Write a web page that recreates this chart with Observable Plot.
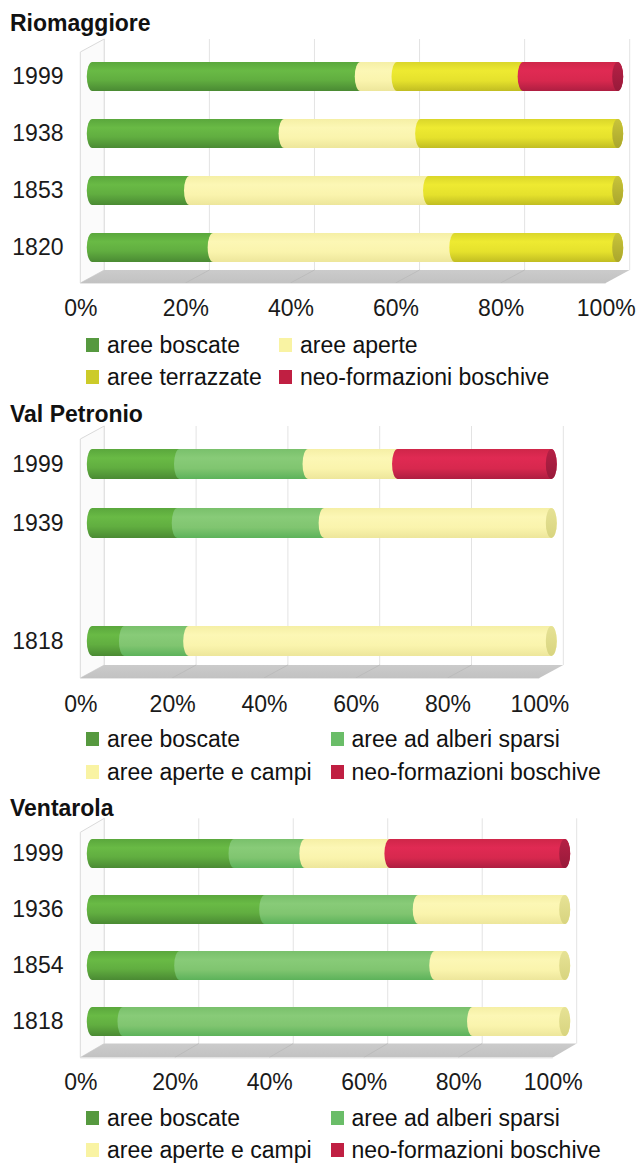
<!DOCTYPE html>
<html><head><meta charset="utf-8">
<script src="https://cdn.jsdelivr.net/npm/d3@7"></script>
<script src="https://cdn.jsdelivr.net/npm/@observablehq/plot@0.6"></script>
<style>
body{margin:0;background:#fff;font-family:"Liberation Sans",Arial,sans-serif;}
#root{position:relative;width:638px;height:1163px;overflow:hidden;}
.title{position:absolute;left:10px;font-weight:bold;color:#111;white-space:nowrap;}
.leg{position:absolute;color:#111;white-space:nowrap;font-size:23px;line-height:23px;}
.sw{position:absolute;width:13px;height:14px;}
.panel{position:absolute;left:0;}
</style></head><body>
<svg width="0" height="0" style="position:absolute">
<defs>
<linearGradient id="g-bos" x1="0" y1="0" x2="0" y2="1"><stop offset="0" stop-color="#5aa73c"/><stop offset="0.3" stop-color="#69ba45"/><stop offset="0.62" stop-color="#61ae40"/><stop offset="1" stop-color="#4a8a33"/></linearGradient>
<linearGradient id="g-spa" x1="0" y1="0" x2="0" y2="1"><stop offset="0" stop-color="#79c06b"/><stop offset="0.3" stop-color="#88cb78"/><stop offset="0.65" stop-color="#80c570"/><stop offset="1" stop-color="#5cb25a"/></linearGradient>
<linearGradient id="g-ape" x1="0" y1="0" x2="0" y2="1"><stop offset="0" stop-color="#f5efa5"/><stop offset="0.3" stop-color="#fcf7b5"/><stop offset="0.65" stop-color="#faf4ad"/><stop offset="1" stop-color="#ede69b"/></linearGradient>
<linearGradient id="g-ter" x1="0" y1="0" x2="0" y2="1"><stop offset="0" stop-color="#dad62a"/><stop offset="0.3" stop-color="#eeea31"/><stop offset="0.65" stop-color="#e5e12c"/><stop offset="1" stop-color="#c1bd22"/></linearGradient>
<linearGradient id="g-neo" x1="0" y1="0" x2="0" y2="1"><stop offset="0" stop-color="#cf2649"/><stop offset="0.3" stop-color="#e02a53"/><stop offset="0.65" stop-color="#d7284e"/><stop offset="1" stop-color="#ae1e41"/></linearGradient>
<linearGradient id="c-bos" x1="0" y1="0" x2="0" y2="1"><stop offset="0" stop-color="#4f9535"/><stop offset="1" stop-color="#3f7a2b"/></linearGradient>
<linearGradient id="c-spa" x1="0" y1="0" x2="0" y2="1"><stop offset="0" stop-color="#6fb362"/><stop offset="1" stop-color="#54a052"/></linearGradient>
<linearGradient id="c-ape" x1="0" y1="0" x2="0" y2="1"><stop offset="0" stop-color="#e6e295"/><stop offset="1" stop-color="#d8d47f"/></linearGradient>
<linearGradient id="c-ter" x1="0" y1="0" x2="0" y2="1"><stop offset="0" stop-color="#c8c43a"/><stop offset="1" stop-color="#aaa62c"/></linearGradient>
<linearGradient id="c-neo" x1="0" y1="0" x2="0" y2="1"><stop offset="0" stop-color="#b52045"/><stop offset="1" stop-color="#981a3a"/></linearGradient>
<linearGradient id="g-floor" x1="0" y1="0" x2="0" y2="1"><stop offset="0" stop-color="#cbcbcb"/><stop offset="1" stop-color="#c2c2c2"/></linearGradient>
</defs></svg>
<div id="root"></div>
<script>
// ---------- data ----------
const ticks = [0, 20, 40, 60, 80, 100];

const rioYears = ["1999", "1938", "1853", "1820"];
const rioCategories = ["aree boscate", "aree aperte", "aree terrazzate", "neo-formazioni boschive"];
const rioBoscate    = [51, 36.5, 18.5, 23];
const rioAperte     = [7, 26, 45.5, 46];
const rioTerrazzate = [24, 37.5, 36, 31];
const rioNeo        = [18, 0, 0, 0];

const valSlots = ["1999", "1939", "", "1818"];
const valYears = ["1999", "1939", "1818"];
const valCategories = ["aree boscate", "aree ad alberi sparsi", "aree aperte e campi", "neo-formazioni boschive"];
const valBoscate = [19, 18.5, 7];
const valSparsi  = [28, 32, 14];
const valAperte  = [19.5, 49.5, 79];
const valNeo     = [33.5, 0, 0];

const venYears = ["1999", "1936", "1854", "1818"];
const venCategories = ["aree boscate", "aree ad alberi sparsi", "aree aperte e campi", "neo-formazioni boschive"];
const venBoscate = [30, 36.5, 18.5, 6.5];
const venSparsi  = [15, 32.5, 54, 74];
const venAperte  = [18, 31, 27.5, 19.5];
const venNeo     = [37, 0, 0, 0];

// ---------- styling ----------
const keyOf = {
  "aree boscate": "bos", "aree ad alberi sparsi": "spa", "aree aperte": "ape",
  "aree aperte e campi": "ape", "aree terrazzate": "ter", "neo-formazioni boschive": "neo"
};
const swatch = {bos: "#56993f", spa: "#6abd68", ape: "#f9f3a3", ter: "#cccb29", neo: "#c01f42"};

const panels = [
  {title: "Riomaggiore", titleBase: 31.5, top: 0, height: 330,
   slots: rioYears, years: rioYears, cats: rioCategories,
   series: [rioBoscate, rioAperte, rioTerrazzate, rioNeo],
   back: [104.3, 629.7], rowC: [75.3, 248], bw: 29.3,
   gridTop: 39, floorTop: 270, floorBot: 283, tickY: 315,
   legCols: [86, 279], legRows: [353, 385]},
  {title: "Val Petronio", titleBase: 422.7, top: 400, height: 330,
   slots: valSlots, years: valYears, cats: valCategories,
   series: [valBoscate, valSparsi, valAperte, valNeo],
   back: [104.3, 563.3], rowC: [462.7, 641.7], bw: 30,
   gridTop: 426, floorTop: 665, floorBot: 678, tickY: 711.5,
   legCols: [86, 330.5], legRows: [747, 780.5]},
  {title: "Ventarola", titleBase: 816, top: 795, height: 310,
   slots: venYears, years: venYears, cats: venCategories,
   series: [venBoscate, venSparsi, venAperte, venNeo],
   back: [104.3, 576.7], rowC: [852.5, 1022.8], bw: 29,
   gridTop: 818.3, floorTop: 1043.5, floorBot: 1057.5, tickY: 1089.5,
   legCols: [86, 330.5], legRows: [1126.7, 1158]}
];

const root = document.getElementById("root");
const D = 12; // half depth offset in x

function decoration(cfg) {
  return (index, scales) => {
    const x = scales.x, t = cfg.top;
    const gT = cfg.gridTop - t, fT = cfg.floorTop - t, fB = cfg.floorBot - t;
    const dy = fB - fT;
    const g = d3.create("svg:g");
    const b0 = x(0) + D, b100 = x(100) + D, f0 = x(0) - D, f100 = x(100) - D;
    // left wall
    g.append("path").attr("d", `M${f0},${gT + dy}L${b0},${gT}L${b0},${fT}L${f0},${fB}Z`)
      .attr("fill", "#fbfbfb").attr("stroke", "#dadada").attr("stroke-width", 1);
    // back grid lines
    for (const p of ticks) {
      g.append("line").attr("x1", x(p) + D).attr("x2", x(p) + D).attr("y1", gT).attr("y2", fT)
        .attr("stroke", "#e3e3e3").attr("stroke-width", 1);
    }
    // floor
    g.append("path").attr("d", `M${b0},${fT}L${b100},${fT}L${f100},${fB}L${f0},${fB}Z`)
      .attr("fill", "url(#g-floor)");
    for (const p of ticks) {
      if (p === 0 || p === 100) continue;
      g.append("line").attr("x1", x(p) + D).attr("y1", fT).attr("x2", x(p) - D).attr("y2", fB)
        .attr("stroke", "#b9b9b9").attr("stroke-width", 0.8);
    }
    g.append("line").attr("x1", f0).attr("x2", f100).attr("y1", fB + 0.5).attr("y2", fB + 0.5)
      .attr("stroke", "#e6e6e6");
    return g.node();
  };
}

for (const cfg of panels) {
  const rows = [];
  const caps = [];
  cfg.years.forEach((yr, i) => {
    let last = null, total = 0;
    cfg.cats.forEach((c, j) => {
      const v = cfg.series[j][i];
      if (v > 0) { rows.push({year: yr, cat: c, value: v}); last = c; total += v; }
    });
    caps.push({year: yr, cat: last + "|cap", end: total});
  });
  const n = cfg.slots.length;
  const step = (cfg.rowC[1] - cfg.rowC[0]) / (n - 1);
  const pi = 1 - cfg.bw / step;
  const t = cfg.top;
  const colorDomain = [...cfg.cats, ...cfg.cats.map(c => c + "|cap")];
  const colorRange = [...cfg.cats.map(c => `url(#g-${keyOf[c]})`), ...cfg.cats.map(c => `url(#c-${keyOf[c]})`)];

  const chart = Plot.plot({
    width: 638,
    height: cfg.height,
    marginLeft: 70,
    marginTop: 0,
    marginRight: 0,
    marginBottom: cfg.height - (cfg.floorBot - t),
    style: {background: "transparent", fontFamily: "'Liberation Sans', Arial, sans-serif", color: "#1a1a1a", overflow: "visible"},
    x: {domain: [0, 100], range: [cfg.back[0] - D, cfg.back[1] - D], axis: null},
    y: {domain: cfg.slots, range: [cfg.rowC[0] - step / 2 - t, cfg.rowC[1] + step / 2 - t], paddingInner: pi, paddingOuter: pi / 2, label: null},
    color: {domain: colorDomain, range: colorRange},
    marks: [
      decoration(cfg),
      Plot.barX(rows, {y: "year", x: "value", fill: "cat", insetLeft: -5.5, insetRight: -5.5, rx: 5.5, ry: 16}),
      Plot.barX(caps, {y: "year", x1: "end", x2: "end", fill: "cat", insetLeft: -5.5, insetRight: -5.5, rx: 5.5, ry: 16}),
      Plot.axisY({anchor: "left", label: null, tickSize: 0, tickPadding: 7, fontSize: 23, fill: "#1a1a1a", tickFormat: d => d}),
      Plot.text(ticks, {x: d => d, frameAnchor: "bottom", dx: -D, dy: cfg.tickY - cfg.floorBot, text: d => d + "%", fontSize: 23, fill: "#1a1a1a"})
    ]
  });
  chart.classList.add("panel");
  chart.style.top = t + "px";
  root.appendChild(chart);

  // title
  const ti = document.createElement("div");
  ti.className = "title";
  ti.textContent = cfg.title;
  ti.style.fontSize = "23px";
  ti.style.lineHeight = "23px";
  ti.style.top = (cfg.titleBase - 19.5) + "px";
  root.appendChild(ti);

  // legend
  cfg.cats.forEach((c, j) => {
    const r = Math.floor(j / 2), col = j % 2;
    const base = cfg.legRows[r];
    const sw = document.createElement("div");
    sw.className = "sw";
    sw.style.left = cfg.legCols[col] + "px";
    sw.style.top = (base - 15.5) + "px";
    sw.style.background = swatch[keyOf[c]];
    root.appendChild(sw);
    const tx = document.createElement("div");
    tx.className = "leg";
    tx.textContent = c;
    tx.style.left = (cfg.legCols[col] + 21) + "px";
    tx.style.top = (base - 19.5) + "px";
    root.appendChild(tx);
  });
}
</script>
</body></html>
